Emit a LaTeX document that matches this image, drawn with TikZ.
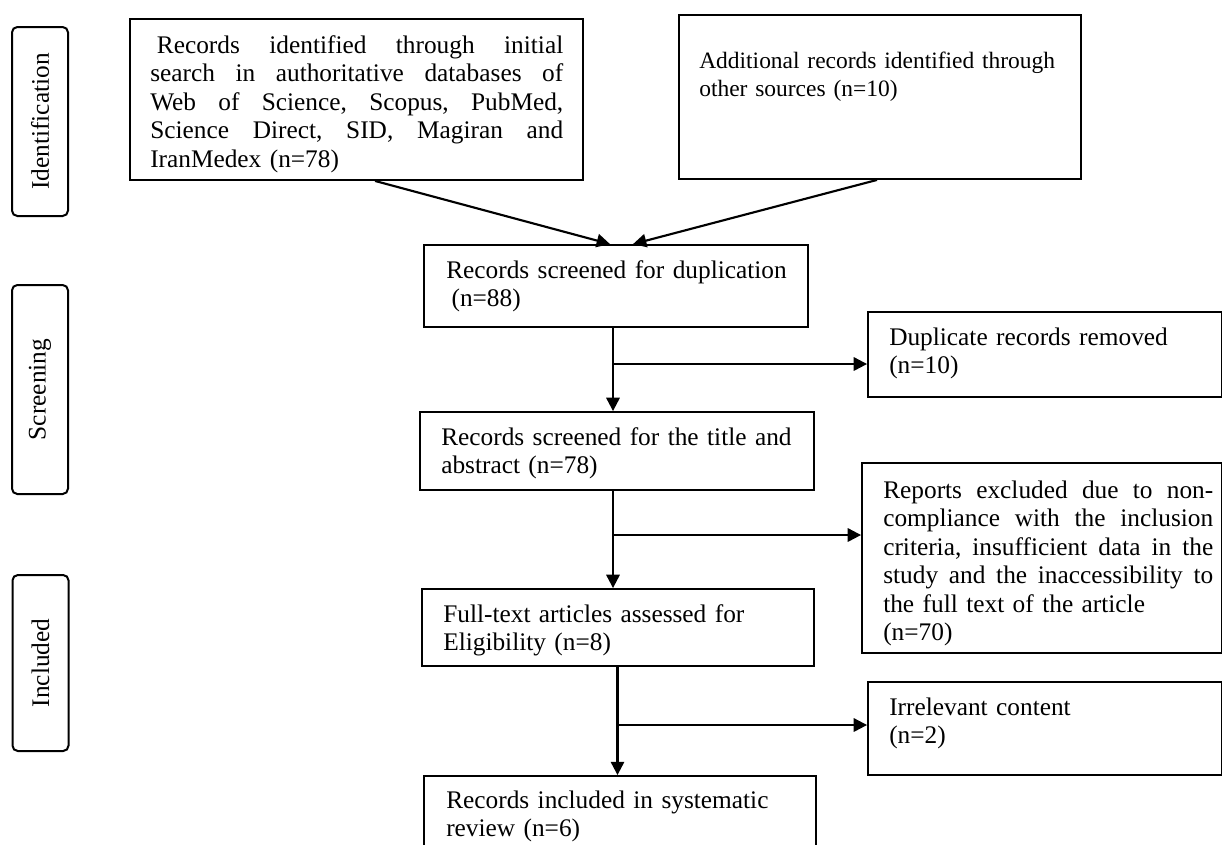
\documentclass[tikz,border=0pt]{standalone}
\usepackage{fontspec}
\setmainfont{Liberation Serif}
\usetikzlibrary{arrows.meta,fit}
\newcommand{\jline}[2]{\makebox[#1][l]{#2}}
\newcommand{\gap}{\hspace{0pt plus 1fill}}
\begin{document}
\begin{tikzpicture}[x=0.75pt,y=-0.75pt,
  box/.style={draw=black,line width=1.4pt,inner sep=0pt,rectangle},
  lab/.style={draw=black,line width=1.5pt,rounded corners=4pt,inner sep=0pt,
     font=\fontsize{19pt}{21.4pt}\selectfont},
  txt/.style={inner sep=0pt,align=left,anchor=base west,text width=340pt,
     font=\fontsize{19pt}{21.4pt}\selectfont},
  arr/.style={line width=1.6pt,-{Triangle[length=10pt,width=10pt]}},
  ln/.style={line width=1.6pt}]
\useasboundingbox (0,0) rectangle (1223,844);
% phase labels
\node[lab,rotate=90,minimum width=141.75pt,minimum height=42pt] (p1) at (40,121.5) {Identification};
\node[lab,rotate=90,minimum width=156.75pt,minimum height=42pt] (p2) at (40,389.5) {Screening};
\node[lab,rotate=90,minimum width=132pt,minimum height=42pt] (p3) at (40.5,663) {Included};
% boxes
\node[box,fit={(130,19)(583,180)}] (b1) {};
\node[box,fit={(679,15)(1081,179)}] (b2) {};
\node[box,fit={(424,245)(808,327)}] (b3) {};
\node[box,fit={(868,312)(1221.5,397)}] (dup) {};
\node[box,fit={(420,412)(814,490)}] (b4) {};
\node[box,fit={(862,463)(1221.5,653)}] (rep) {};
\node[box,fit={(422,589)(814,666)}] (b5) {};
\node[box,fit={(868,682)(1221.5,775)}] (irr) {};
\node[box,fit={(424,776)(816,852)}] (b6) {};
% texts
\node[txt] (t1) at (150,53) {\jline{309.75pt}{\hspace*{5pt}Records\gap identified\gap through\gap initial}\\
\jline{309.75pt}{search\gap in\gap authoritative\gap databases\gap of}\\
\jline{309.75pt}{Web\gap of\gap Science,\gap Scopus,\gap PubMed,}\\
\jline{309.75pt}{Science\gap Direct,\gap SID,\gap Magiran\gap and}\\
IranMedex (n=78)};
\node[txt,font=\fontsize{17.6pt}{21.4pt}\selectfont] (t2) at (699,68) {Additional records identified through\\other sources (n=10)};
\node[txt] (t3) at (446,278) {Records screened for duplication\\\hspace*{4pt}(n=88)};
\node[txt] (tdup) at (889,345) {Duplicate records removed\\(n=10)};
\node[txt] (t4) at (441,445) {Records screened for the title and\\abstract (n=78)};
\node[txt] (trep) at (883,498) {\jline{247.5pt}{Reports\gap excluded\gap due\gap to\gap non-}\\
\jline{247.5pt}{compliance\gap with\gap the\gap inclusion}\\
\jline{247.5pt}{criteria,\gap insufficient\gap data\gap in\gap the}\\
\jline{247.5pt}{study\gap and\gap the\gap inaccessibility\gap to}\\
the full text of the article\\
(n=70)};
\node[txt] (t5) at (443,622) {Full-text articles assessed for\\Eligibility (n=8)};
\node[txt] (tirr) at (889,715) {Irrelevant content\\(n=2)};
\node[txt] (t6) at (446,808) {Records included in systematic\\review (n=6)};
% spine coordinates
\coordinate (s1) at (613,364);
\coordinate (s2) at (613,535);
\coordinate (s3) at (617.5,725);
% connectors
\draw[arr] ([xshift=13.9pt]b1.south) -- ([xshift=-4.5pt]b3.north);
\draw[arr] ([xshift=-2.25pt]b2.south) -- ([xshift=12.75pt]b3.north);
\draw[arr] (b3.south -| s1) -- (b4.north -| s1);
\draw[arr] (s1) -- (s1 -| dup.west);
\draw[arr] (b4.south -| s2) -- (b5.north -| s2);
\draw[arr] (s2) -- (s2 -| rep.west);
\draw[arr] (b5.south -| s3) -- (b6.north -| s3);
\draw[arr] (s3) -- (s3 -| irr.west);
\end{tikzpicture}
\end{document}
